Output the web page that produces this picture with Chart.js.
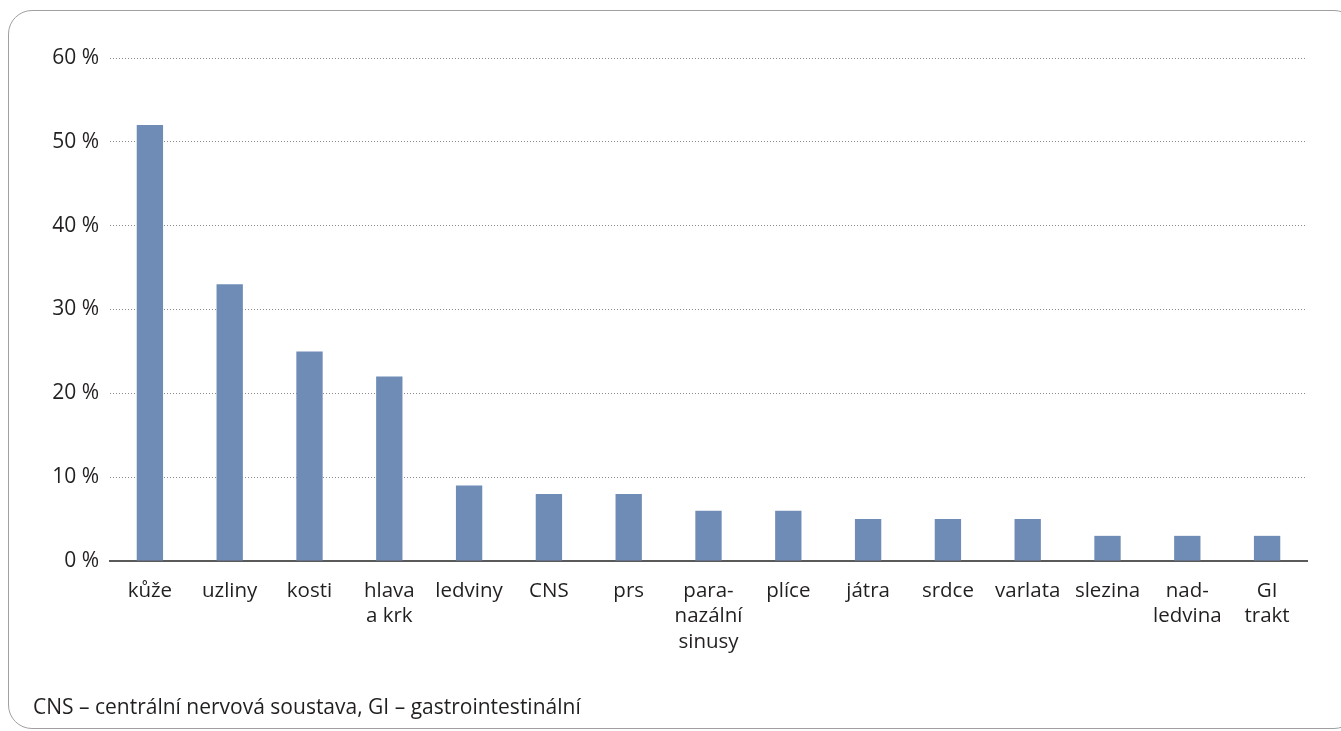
<!DOCTYPE html>
<html>
<head>
<meta charset="utf-8">
<script src="https://cdn.jsdelivr.net/npm/chart.js@4"></script>
<style>
  html, body { margin: 0; padding: 0; background: #fff; overflow: hidden; }
  #wrap { position: relative; width: 1341px; height: 731px; }
  #frame { position: absolute; left: 8px; top: 10px; width: 1350px; height: 719px; border: 1.5px solid #a0a0a0; border-radius: 24px; box-sizing: border-box; }
  #c { position: absolute; left: 0; top: 0; }
  #note { position: absolute; left: 33px; top: 692px; font-family: "Open Sans", sans-serif; font-size: 21px; line-height: 28px; color: #231f20; white-space: nowrap; }
</style>
</head>
<body>
<div id="wrap">
  <div id="frame"></div>
  <canvas id="c" width="1341" height="731"></canvas>
  <div id="note">CNS – centrální nervová soustava, GI – gastrointestinální</div>
</div>
<script>
const categories = [
  ["kůže"], ["uzliny"], ["kosti"], ["hlava", "a krk"], ["ledviny"], ["CNS"], ["prs"],
  ["para-", "nazální", "sinusy"], ["plíce"], ["játra"], ["srdce"], ["varlata"], ["slezina"],
  ["nad-", "ledvina"], ["GI", "trakt"]
];
const values = [52, 33, 25, 22, 9, 8, 8, 6, 6, 5, 5, 5, 3, 3, 3];
const yTicks = [0, 10, 20, 30, 40, 50, 60];

const FONT = "'Open Sans', sans-serif";
const TEXT = "#231f20";

new Chart(document.getElementById('c'), {
  type: 'bar',
  data: {
    labels: categories,
    datasets: [{
      data: values,
      backgroundColor: '#6f8cb7',
      borderWidth: 0,
      barPercentage: 0.33,
      categoryPercentage: 1.0
    }]
  },
  options: {
    responsive: false,
    animation: false,
    layout: { padding: { left: 0, top: 58, right: 34, bottom: 0 } },
    plugins: { legend: { display: false }, tooltip: { enabled: false } },
    scales: {
      x: {
        grid: { display: false, drawTicks: false },
        border: { display: true, color: '#5a5a5a', width: 2 },
        ticks: {
          color: TEXT, font: { family: FONT, size: 20.5, lineHeight: 1.25 },
          padding: 17, maxRotation: 0, autoSkip: false
        },
        afterFit: (s) => { s.height = 170; }
      },
      y: {
        min: 0, max: 60,
        afterBuildTicks: (s) => { s.ticks = yTicks.map(v => ({ value: v })); },
        grid: {
          drawTicks: false,
          color: (ctx) => ctx.tick && ctx.tick.value === 0 ? 'rgba(0,0,0,0)' : '#8a8a8a',
          lineWidth: 1
        },
        border: { display: false, dash: [1, 2] },
        ticks: {
          color: TEXT, font: { family: FONT, size: 21 }, padding: 11,
          callback: (v) => v + ' %'
        },
        afterFit: (s) => { s.width = 110; }
      }
    }
  }
});
</script>
</body>
</html>
